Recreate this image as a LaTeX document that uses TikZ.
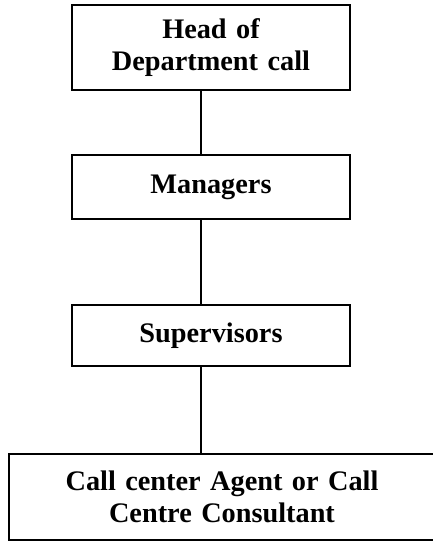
\documentclass[tikz,border=0pt]{standalone}
\usepackage{fontspec}
\setmainfont{Liberation Serif}
\begin{document}
\begin{tikzpicture}[x=1pt,y=-1pt,
  level/.style={draw,line width=1.2pt,inner sep=0pt,align=center,
    font=\bfseries\fontsize{28.3}{31.5}\selectfont}]
\useasboundingbox (0,0) rectangle (432,542);
\node[level,minimum width=278pt,minimum height=85pt,text width=270pt] (head) at (211,47.5) {Head of\\Department call};
\node[level,minimum width=278pt,minimum height=64pt] (mgr) at (211,187) {Managers};
\node[level,minimum width=278pt,minimum height=61pt] (sup) at (211,335.5) {Supervisors};
\node[level,minimum width=426pt,minimum height=86pt,text width=410pt] (agent) at (222,497) {Call center Agent or Call\\Centre Consultant};
\draw[line width=1.2pt] ([xshift=-10pt]head.south) -- ([xshift=-10pt]mgr.north);
\draw[line width=1.2pt] ([xshift=-10pt]mgr.south) -- ([xshift=-10pt]sup.north);
\draw[line width=1.2pt] ([xshift=-10pt]sup.south) -- ([xshift=-10pt]sup.south |- agent.north);
\end{tikzpicture}
\end{document}
